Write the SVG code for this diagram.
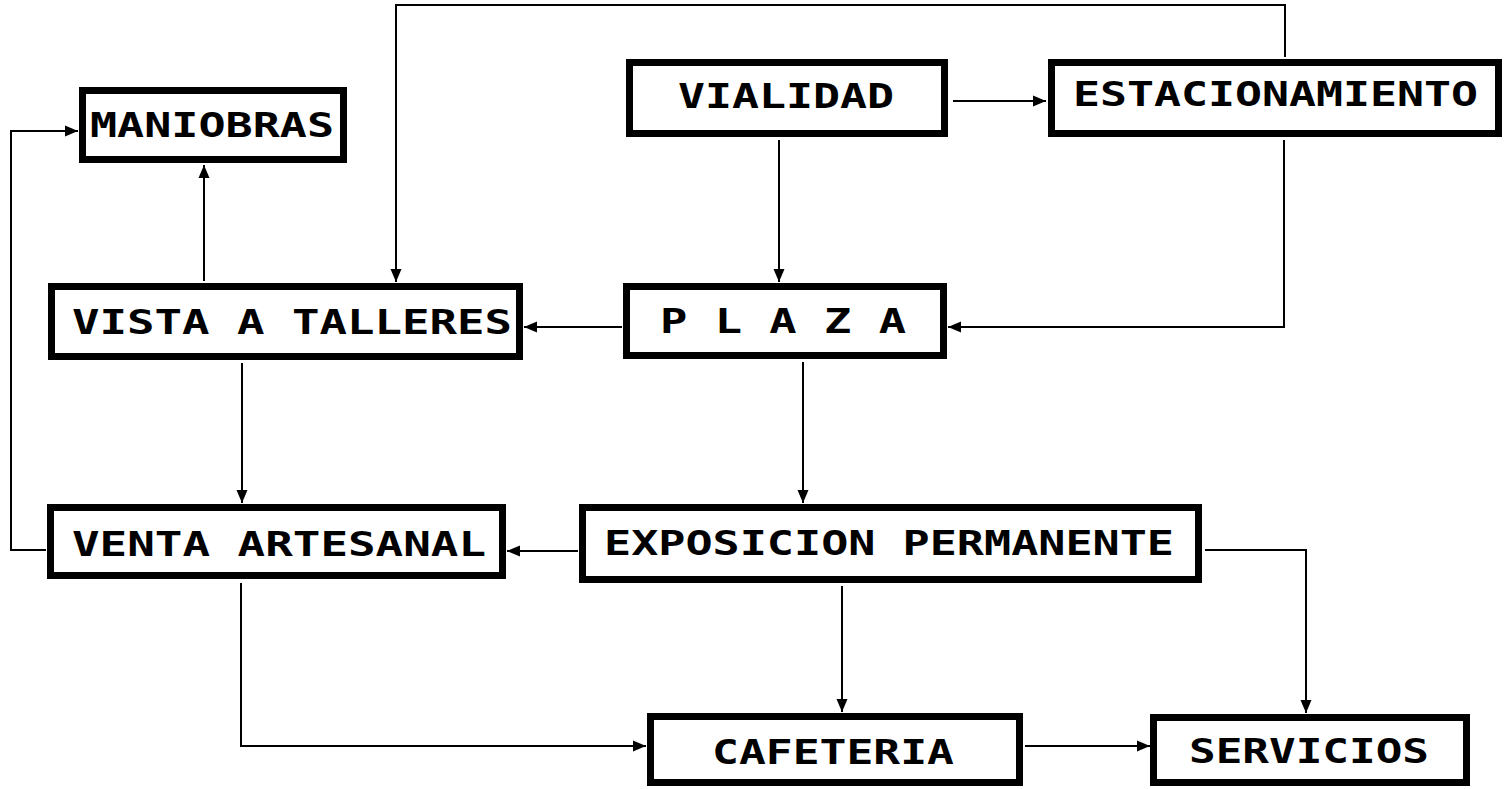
<svg xmlns="http://www.w3.org/2000/svg" width="1510" height="789" viewBox="0 0 1510 789">
<defs>
<marker id="arr" markerWidth="14" markerHeight="12" refX="13" refY="6" orient="auto" markerUnits="userSpaceOnUse">
<path d="M0,0.5 L13,6 L0,11.5 z" fill="#000"/>
</marker>
<style>
.box{fill:#fff;stroke:#000;stroke-width:7}
.lbl{font-family:"DejaVu Sans Mono","Liberation Mono",monospace;font-weight:bold;font-size:34px;fill:#000}
.con{fill:none;stroke:#000;stroke-width:2}
.con path{marker-end:url(#arr)}
</style>
</defs>
<rect width="1510" height="789" fill="#fff"/>
<g id="connectors" class="con">
<path d="M953 101 H1046"/>
<path d="M779 140 V282"/>
<path d="M1285 57 V5 H396 V282"/>
<path d="M1284 140 V327 H948"/>
<path d="M622 327 H524"/>
<path d="M204 281 V165"/>
<path d="M242 363 V503"/>
<path d="M46 550 H11 V131 H78"/>
<path d="M578 551 H507"/>
<path d="M803 362 V503"/>
<path d="M842 586 V712"/>
<path d="M1205 550 H1306 V713"/>
<path d="M241 583 V746 H646"/>
<path d="M1025 746 H1150"/>
</g>
<g id="maniobras"><rect class="box" x="82.5" y="90.5" width="261" height="69"/><text class="lbl" x="90" y="137" textLength="244" lengthAdjust="spacingAndGlyphs">MANIOBRAS</text></g>
<g id="vialidad"><rect class="box" x="629.5" y="62.5" width="315" height="71"/><text class="lbl" x="678" y="108" textLength="216" lengthAdjust="spacingAndGlyphs">VIALIDAD</text></g>
<g id="estacionamiento"><rect class="box" x="1051.5" y="62.5" width="447" height="71"/><text class="lbl" x="1073" y="106" textLength="405" lengthAdjust="spacingAndGlyphs">ESTACIONAMIENTO</text></g>
<g id="vista"><rect class="box" x="51.5" y="286.5" width="468" height="70"/><text class="lbl" x="72" y="334" textLength="440" lengthAdjust="spacingAndGlyphs">VISTA A TALLERES</text></g>
<g id="plaza"><rect class="box" x="626.5" y="286.5" width="317" height="69"/><text class="lbl" x="660" y="333" textLength="246" lengthAdjust="spacingAndGlyphs">P L A Z A</text></g>
<g id="venta"><rect class="box" x="50.5" y="507.5" width="452" height="68"/><text class="lbl" x="72" y="556" textLength="414" lengthAdjust="spacingAndGlyphs">VENTA ARTESANAL</text></g>
<g id="exposicion"><rect class="box" x="582.5" y="507.5" width="616" height="72"/><text class="lbl" x="604" y="555" textLength="570" lengthAdjust="spacingAndGlyphs">EXPOSICION PERMANENTE</text></g>
<g id="cafeteria"><rect class="box" x="650.5" y="716.5" width="369" height="66"/><text class="lbl" x="712" y="764" textLength="242" lengthAdjust="spacingAndGlyphs">CAFETERIA</text></g>
<g id="servicios"><rect class="box" x="1153.5" y="717.5" width="313" height="65"/><text class="lbl" x="1189" y="763" textLength="240" lengthAdjust="spacingAndGlyphs">SERVICIOS</text></g>
</svg>
